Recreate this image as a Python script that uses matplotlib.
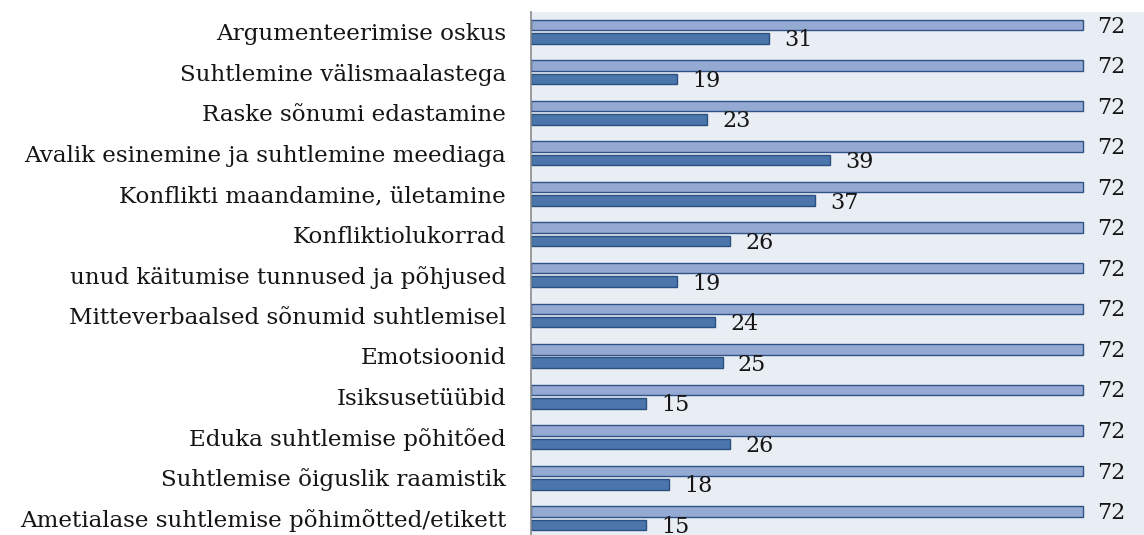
import matplotlib
matplotlib.use("Agg")
import matplotlib.pyplot as plt
import numpy as np

categories = [
    "Argumenteerimise oskus",
    "Suhtlemine välismaalastega",
    "Raske sõnumi edastamine",
    "Avalik esinemine ja suhtlemine meediaga",
    "Konflikti maandamine, ületamine",
    "Konfliktiolukorrad",
    "unud käitumise tunnused ja põhjused",
    "Mitteverbaalsed sõnumid suhtlemisel",
    "Emotsioonid",
    "Isiksusetüübid",
    "Eduka suhtlemise põhitõed",
    "Suhtlemise õiguslik raamistik",
    "Ametialase suhtlemise põhimõtted/etikett",
]
total = [72] * 13
selected = [31, 19, 23, 39, 37, 26, 19, 24, 25, 15, 26, 18, 15]

plt.rcParams['font.family'] = ['DejaVu Serif']

fig = plt.figure(figsize=(11.44, 5.35), dpi=100)
ax = fig.add_axes([531/1144, 0, 1 - 531/1144, 1 - 12/535])
ax.set_facecolor('#E9EDF4')

y = np.arange(len(categories))
h = 0.26
ax.barh(y - 0.16, total, height=h, color='#95AAD2', edgecolor='#2F5389', linewidth=1.0)
ax.barh(y + 0.17, selected, height=h, color='#4A76AB', edgecolor='#2B4F80', linewidth=1.0)

for yi, v in zip(y, total):
    ax.text(v + 1.9, yi - 0.12, str(v), va='center', ha='left', fontsize=16, color='#151515')
for yi, v in zip(y, selected):
    ax.text(v + 2.0, yi + 0.22, str(v), va='center', ha='left', fontsize=16, color='#151515')

ax.set_xlim(0, 80)
ax.set_ylim(12.42, -0.48)
ax.set_yticks(y)
ax.set_yticklabels(categories, fontsize=16.6, color='#151515')
ax.tick_params(axis='y', length=0, pad=18)
ax.set_xticks([])
for s in ['top', 'right', 'bottom']:
    ax.spines[s].set_visible(False)
ax.spines['left'].set_color('#8C8C8C')
ax.spines['left'].set_linewidth(1.2)

fig.savefig('out.png', dpi=100)
